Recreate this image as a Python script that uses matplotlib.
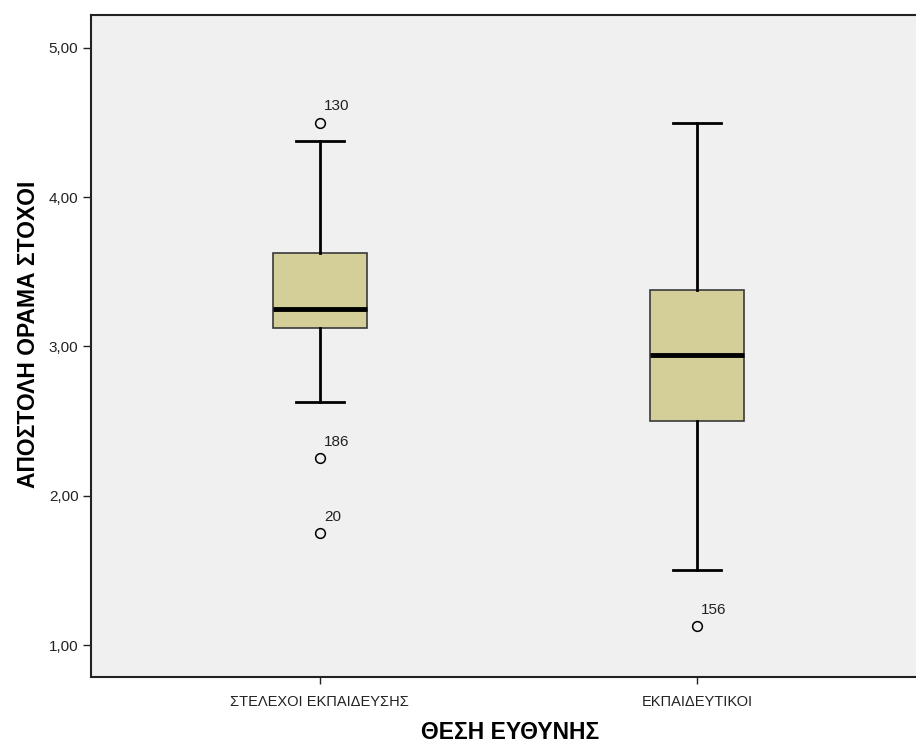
import matplotlib.pyplot as plt

# SPSS-style boxplot: mission/vision/goals score by position
categories = ['ΣΤΕΛΕΧΟΙ ΕΚΠΑΙΔΕΥΣΗΣ', 'ΕΚΠΑΙΔΕΥΤΙΚΟΙ']
q1 = [3.125, 2.50]
medians = [3.25, 2.94]
q3 = [3.625, 3.375]
whisker_low = [2.625, 1.50]
whisker_high = [4.375, 4.50]
outliers = [[4.50, 2.25, 1.75], [1.125]]
outlier_ids = [['130', '186', '20'], ['156']]

yticks = [1, 2, 3, 4, 5]
ytick_labels = ['1,00', '2,00', '3,00', '4,00', '5,00']

font = 'Liberation Sans'

fig = plt.figure(figsize=(9.16, 7.44), dpi=100)
ax = fig.add_axes([0.0993, 0.0901, 0.9007, 0.8897])
ax.set_facecolor('#f0f0f0')

stats = []
for i in range(len(categories)):
    stats.append({
        'label': categories[i],
        'q1': q1[i], 'med': medians[i], 'q3': q3[i],
        'whislo': whisker_low[i], 'whishi': whisker_high[i],
        'fliers': outliers[i],
    })

positions = [1, 2]
ax.bxp(stats, positions=positions, widths=0.25, capwidths=0.127,
       patch_artist=True, showfliers=True,
       boxprops=dict(facecolor='#d4cf98', edgecolor='#3a3a3a', linewidth=1.2),
       medianprops=dict(color='black', linewidth=3.5),
       whiskerprops=dict(color='black', linewidth=2),
       capprops=dict(color='black', linewidth=2),
       flierprops=dict(marker='o', markersize=7, markerfacecolor='none',
                       markeredgecolor='black', markeredgewidth=1.1))

# outlier case numbers
for pos, vals, ids in zip(positions, outliers, outlier_ids):
    for v, lab in zip(vals, ids):
        ax.annotate(lab, (pos, v), xytext=(3, 9), textcoords='offset points',
                    fontsize=11, family=font, color='#222222')

ax.set_xlim(0.393, 2.581)
ax.set_ylim(0.786, 5.22)
ax.set_yticks(yticks)
ax.set_yticklabels(ytick_labels, family=font, fontsize=11)
ax.set_xticks(positions)
ax.set_xticklabels(categories, family=font, fontsize=10.5)
ax.tick_params(axis='y', length=6, width=1, pad=3, colors='#222222')
ax.tick_params(axis='x', length=5, width=1, pad=8, colors='#222222')

for side in ['left', 'bottom', 'top']:
    ax.spines[side].set_linewidth(1.5)
    ax.spines[side].set_color('#222222')
ax.spines['right'].set_visible(False)

ax.set_ylabel('ΑΠΟΣΤΟΛΗ ΟΡΑΜΑ ΣΤΟΧΟΙ', family=font, fontsize=16.5,
              fontweight='bold')
ax.set_xlabel('ΘΕΣΗ ΕΥΘΥΝΗΣ', family=font, fontsize=16.5,
              fontweight='bold')
ax.yaxis.set_label_coords(-0.062, 0.517)
ax.xaxis.set_label_coords(0.508, -0.066)

fig.savefig('out.png', dpi=100)
